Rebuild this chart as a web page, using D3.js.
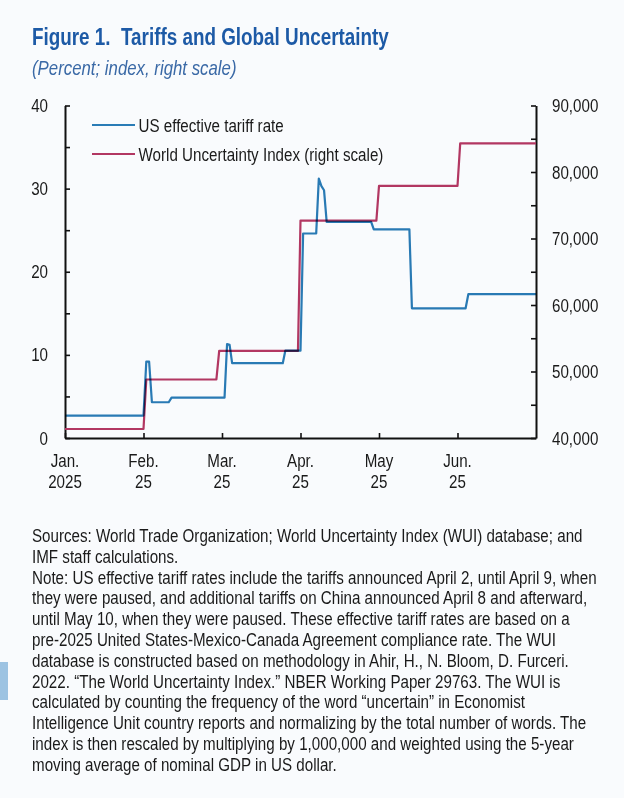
<!DOCTYPE html>
<html>
<head>
<meta charset="utf-8">
<script src="https://cdn.jsdelivr.net/npm/d3@7"></script>
<style>
  html, body { margin: 0; padding: 0; background: #f9fbfd; }
  svg { display: block; font-family: "Liberation Sans", Arial, sans-serif; }
  .axis .domain { stroke: #111; stroke-width: 2; }
  .axis .tick line { stroke: #111; stroke-width: 1.6; }
</style>
</head>
<body>
<svg width="624" height="798"></svg>
<script>
// --- data ---
const monthStarts = ["2025-01-01", "2025-02-01", "2025-03-01", "2025-04-01", "2025-05-01", "2025-06-01"];
const lastDay = "2025-06-30";
const monthLabels = ["Jan.", "Feb.", "Mar.", "Apr.", "May", "Jun."];
const yearLabels = ["2025", "25", "25", "25", "25", "25"];

const tariffDates = ["2025-01-01", "2025-02-01", "2025-02-02", "2025-02-03", "2025-02-04", "2025-02-10",
    "2025-02-11", "2025-03-02", "2025-03-03", "2025-03-04", "2025-03-05", "2025-03-25", "2025-03-26",
    "2025-04-01", "2025-04-02", "2025-04-07", "2025-04-08", "2025-04-09", "2025-04-10", "2025-04-11",
    "2025-04-28", "2025-04-29", "2025-05-13", "2025-05-14", "2025-06-04", "2025-06-05", "2025-06-30"];
const tariffRate = [2.7, 2.7, 9.2, 9.2, 4.3, 4.3, 4.85, 4.85, 11.3, 11.2, 9.0, 9.0, 10.5,
    10.5, 24.6, 24.6, 31.2, 30.3, 29.8, 26.0, 26.0, 25.1, 25.1, 15.6, 15.6, 17.3, 17.3];

const wuiDates = ["2025-01-01", "2025-02-01", "2025-02-02", "2025-02-27", "2025-02-28", "2025-03-31",
    "2025-04-01", "2025-04-30", "2025-05-01", "2025-06-01", "2025-06-02", "2025-06-30"];
const wuiIndex = [41350, 41350, 48800, 48800, 53100, 53100, 72700, 72700, 77900, 77900, 84300, 84300];

const leftTicks = [0, 10, 20, 30, 40];
const rightTicks = [40000, 50000, 60000, 70000, 80000, 90000];

const legendNames = ["US effective tariff rate", "World Uncertainty Index (right scale)"];

const noteLines = [
    "Sources: World Trade Organization; World Uncertainty Index (WUI) database; and",
    "IMF staff calculations.",
    "Note: US effective tariff rates include the tariffs announced April 2, until April 9, when",
    "they were paused, and additional tariffs on China announced April 8 and afterward,",
    "until May 10, when they were paused. These effective tariff rates are based on a",
    "pre-2025 United States-Mexico-Canada Agreement compliance rate. The WUI",
    "database is constructed based on methodology in Ahir, H., N. Bloom, D. Furceri.",
    "2022. \u201CThe World Uncertainty Index.\u201D NBER Working Paper 29763. The WUI is",
    "calculated by counting the frequency of the word \u201Cuncertain\u201D in Economist",
    "Intelligence Unit country reports and normalizing by the total number of words. The",
    "index is then rescaled by multiplying by 1,000,000 and weighted using the 5-year",
    "moving average of nominal GDP in US dollar."
];

// --- layout ---
const BLUE = "#2a7cb6", RED = "#b23762", INK = "#1a1a1a";
const NARROW = 0.82;   // condensed look of the original face
const plotLeft = 65, plotRight = 536, plotTop = 105.5, plotBottom = 438;

const parse = d3.timeParse("%Y-%m-%d");
const svg = d3.select("svg");

// text squeezed horizontally around its anchor
function putText(parent, x, y, str, size, anchor) {
    return parent.append("g")
        .attr("transform", `translate(${x},${y}) scale(${NARROW},1)`)
        .append("text")
        .attr("text-anchor", anchor || "start")
        .attr("font-size", size)
        .attr("fill", INK)
        .style("white-space", "pre")
        .text(str);
}

// titles
putText(svg, 32, 45, "Figure 1.  Tariffs and Global Uncertainty", 23)
    .attr("font-weight", "bold").attr("fill", "#1d5aa6");
putText(svg, 32, 75, "(Percent; index, right scale)", 20.5)
    .attr("font-style", "italic").attr("fill", "#3a69a6");

// scales: months are evenly spaced on the axis
const xDomain = monthStarts.concat([lastDay]).map(parse);
const x = d3.scaleTime()
    .domain(xDomain)
    .range(xDomain.map((d, i) => plotLeft + i * (plotRight - plotLeft) / (xDomain.length - 1)));
const yL = d3.scaleLinear().domain([0, 40]).range([plotBottom, plotTop]);
const yR = d3.scaleLinear().domain([40000, 90000]).range([plotBottom, plotTop]);

// axes (ticks point inward)
svg.append("g").attr("class", "axis")
    .attr("transform", `translate(0,${plotBottom})`)
    .call(d3.axisBottom(x).tickValues(monthStarts.map(parse)).tickSize(-5).tickSizeOuter(0).tickFormat(""));
svg.append("g").attr("class", "axis")
    .attr("transform", `translate(${plotLeft},0)`)
    .call(d3.axisLeft(yL).tickValues(d3.range(0, 41, 5)).tickSize(-5).tickSizeOuter(0).tickFormat(""));
svg.append("g").attr("class", "axis")
    .attr("transform", `translate(${plotRight},0)`)
    .call(d3.axisRight(yR).tickValues(d3.range(40000, 90001, 5000)).tickSize(-5).tickSizeOuter(0).tickFormat(""));

// tick labels
const labels = svg.append("g");
monthStarts.forEach((m, i) => {
    putText(labels, x(parse(m)), plotBottom + 29, monthLabels[i], 18.5, "middle");
    putText(labels, x(parse(m)), plotBottom + 49.5, yearLabels[i], 18.5, "middle");
});
leftTicks.forEach(v => putText(labels, plotLeft - 17, yL(v) + 6.5, v, 18.5, "end"));
rightTicks.forEach(v => putText(labels, plotRight + 16, yR(v) + 6.5, d3.format(",")(v), 18.5, "start"));

// series
const tariff = tariffDates.map((d, i) => ({ date: parse(d), v: tariffRate[i] }));
const wui = wuiDates.map((d, i) => ({ date: parse(d), v: wuiIndex[i] }));

svg.append("path")
    .datum(wui)
    .attr("fill", "none")
    .attr("stroke", RED)
    .attr("stroke-width", 2.2)
    .attr("stroke-linejoin", "round")
    .attr("d", d3.line().x(d => x(d.date)).y(d => yR(d.v)));

svg.append("path")
    .datum(tariff)
    .attr("fill", "none")
    .attr("stroke", BLUE)
    .attr("stroke-width", 2.2)
    .attr("stroke-linejoin", "round")
    .style("mix-blend-mode", "multiply")
    .attr("d", d3.line().x(d => x(d.date)).y(d => yL(d.v)));

// legend
const legend = svg.append("g");
[BLUE, RED].forEach((c, i) => {
    const ly = 125 + i * 29;
    legend.append("line")
        .attr("x1", 92).attr("x2", 135)
        .attr("y1", ly).attr("y2", ly)
        .attr("stroke", c).attr("stroke-width", 2);
    putText(legend, 138.5, ly + 6.5, legendNames[i], 18.5);
});

// sources and notes
const notes = svg.append("g");
noteLines.forEach((t, i) => putText(notes, 32, 542 + i * 20.8, t, 18.5));

// small blue mark on the left edge of the scan
svg.append("rect").attr("x", 0).attr("y", 662).attr("width", 8).attr("height", 38).attr("fill", "#9dc3e2");
</script>
</body>
</html>
